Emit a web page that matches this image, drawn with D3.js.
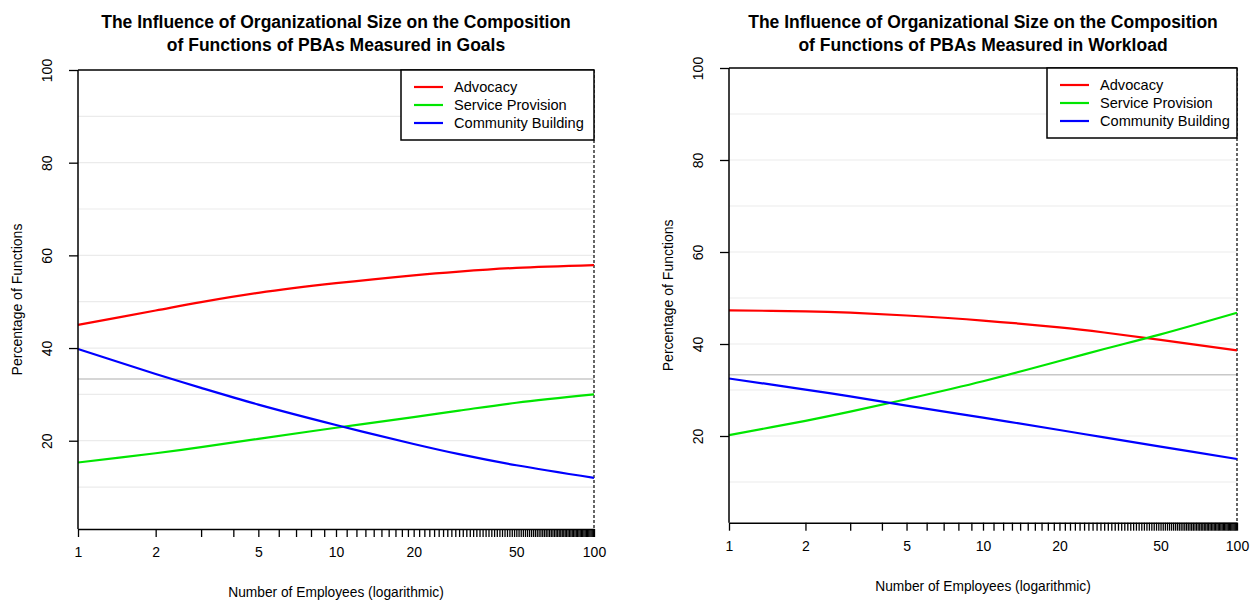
<!DOCTYPE html>
<html>
<head>
<meta charset="utf-8">
<script src="https://cdn.jsdelivr.net/npm/d3@7"></script>
<style>
  body { margin: 0; background: #fff; }
  svg { display: block; font-family: "Liberation Sans", Arial, sans-serif; }
  .tick line { stroke: #000; }
  .tick text { fill: #000; }
</style>
</head>
<body>
<svg id="chart" width="1256" height="602"></svg>
<script>
// values (percent of functions by number of employees)
const employees = [1, 2, 3, 5, 10, 20, 30, 50, 100];

const goalsAdvocacy = [45.0, 48.1, 49.9, 51.9, 54.0, 55.7, 56.5, 57.3, 57.9];
const goalsService = [15.3, 17.3, 18.6, 20.4, 22.8, 25.1, 26.5, 28.2, 30.0];
const goalsCommunity = [39.8, 34.4, 31.4, 27.8, 23.4, 19.3, 17.1, 14.7, 12.0];

const workAdvocacy = [47.3, 47.1, 46.8, 46.2, 45.1, 43.6, 42.5, 40.9, 38.6];
const workService = [20.2, 23.3, 25.3, 28.0, 31.9, 36.3, 38.9, 42.1, 46.8];
const workCommunity = [32.5, 30.1, 28.6, 26.6, 24.0, 21.3, 19.7, 17.7, 15.0];

const seriesNames = ["Advocacy", "Service Provision", "Community Building"];
const seriesColors = ["#ff0000", "#00e600", "#0000ff"];

const yTicks = [20, 40, 60, 80, 100];
const gridValues = [10, 20, 30, 40, 50, 60, 70, 80, 90];
const equalShare = 100 / 3;
const xLabels = [1, 2, 5, 10, 20, 50, 100];
const rugTicks = d3.range(1, 101);

const panels = [
  {
    title: ["The Influence of Organizational Size on the Composition",
            "of Functions of PBAs Measured in Goals"],
    series: [goalsAdvocacy, goalsService, goalsCommunity],
    x0: 78, x1: 594, yTop: 70, yZero: 533.4, axisY: 529, legendW: 193
  },
  {
    title: ["The Influence of Organizational Size on the Composition",
            "of Functions of PBAs Measured in Workload"],
    series: [workAdvocacy, workService, workCommunity],
    x0: 729, x1: 1237, yTop: 68, yZero: 528, axisY: 522.7, legendW: 190
  }
];

const svg = d3.select("#chart");

const drawPanel = (p) => {
  const x = d3.scaleLog().domain([1, 100]).range([p.x0, p.x1]);
  const y = d3.scaleLinear().domain([0, 100]).range([p.yZero, p.yTop]);
  const cx = (p.x0 + p.x1) / 2;
  const g = svg.append("g");

  // grid
  g.append("g").selectAll("line")
    .data(gridValues)
    .join("line")
    .attr("x1", p.x0).attr("x2", p.x1)
    .attr("y1", d => y(d)).attr("y2", d => y(d))
    .attr("stroke", "#ebebeb").attr("stroke-width", 1.2);

  g.append("line")
    .attr("x1", p.x0).attr("x2", p.x1)
    .attr("y1", y(equalShare)).attr("y2", y(equalShare))
    .attr("stroke", "#c8c8c8").attr("stroke-width", 1.5);

  // top line at 100 and dashed right edge
  g.append("line")
    .attr("x1", p.x0).attr("x2", p.x1)
    .attr("y1", y(100)).attr("y2", y(100))
    .attr("stroke", "#000").attr("stroke-width", 1.5);

  g.append("line")
    .attr("x1", x(100)).attr("x2", x(100))
    .attr("y1", y(100)).attr("y2", p.axisY)
    .attr("stroke", "#000").attr("stroke-width", 1.2)
    .attr("stroke-dasharray", "3,2");

  // lines
  const line = d3.line()
    .x(d => x(d[0]))
    .y(d => y(d[1]))
    .curve(d3.curveCatmullRom);

  g.append("g").selectAll("path")
    .data(p.series)
    .join("path")
    .attr("fill", "none")
    .attr("stroke", (d, i) => seriesColors[i])
    .attr("stroke-width", 2.2)
    .attr("d", d => line(d.map((v, i) => [employees[i], v])));

  // x axis with a tick for every employee count
  const xa = g.append("g")
    .attr("transform", `translate(0,${p.axisY})`)
    .call(d3.axisBottom(x).tickValues(rugTicks).tickSize(8).tickSizeOuter(0).tickPadding(10)
      .tickFormat(d => xLabels.includes(d) ? d : ""));
  xa.select(".domain").attr("stroke", "#000").attr("stroke-width", 1.5);
  xa.selectAll(".tick line").attr("stroke-width", 1.3);
  xa.selectAll(".tick text").attr("font-size", 14);

  // y axis
  const ya = g.append("g")
    .attr("transform", `translate(${p.x0},0)`)
    .call(d3.axisLeft(y).tickValues(yTicks).tickSize(9).tickPadding(0));
  ya.select(".domain").remove();
  ya.selectAll(".tick line").attr("stroke-width", 1.3);
  ya.selectAll(".tick text")
    .attr("font-size", 14)
    .attr("text-anchor", "middle")
    .attr("x", 0).attr("dy", 0)
    .attr("transform", "translate(-26,0) rotate(-90)");
  g.append("line")
    .attr("x1", p.x0).attr("x2", p.x0)
    .attr("y1", y(100)).attr("y2", p.axisY)
    .attr("stroke", "#000").attr("stroke-width", 1.5);

  // titles
  g.append("text")
    .attr("x", cx).attr("text-anchor", "middle")
    .attr("font-weight", "bold").attr("font-size", 17.5)
    .selectAll("tspan")
    .data(p.title)
    .join("tspan")
    .attr("x", cx)
    .attr("y", (d, i) => 28 + i * 23)
    .text(d => d);

  g.append("text")
    .attr("x", cx).attr("y", p.axisY + 68)
    .attr("text-anchor", "middle").attr("font-size", 13.75)
    .text("Number of Employees (logarithmic)");

  g.append("text")
    .attr("transform", `translate(${p.x0 - 56},${(y(100) + p.axisY) / 2}) rotate(-90)`)
    .attr("text-anchor", "middle").attr("font-size", 14)
    .text("Percentage of Functions");

  // legend
  const lx = x(100) - p.legendW;
  const ly = y(100);
  const legend = g.append("g").attr("transform", `translate(${lx},${ly})`);
  legend.append("rect")
    .attr("width", p.legendW).attr("height", 70)
    .attr("fill", "#fff").attr("stroke", "#000").attr("stroke-width", 1.5);
  const rows = legend.selectAll("g.row")
    .data(seriesNames)
    .join("g")
    .attr("class", "row")
    .attr("transform", (d, i) => `translate(0,${17 + i * 18})`);
  rows.append("line")
    .attr("x1", 13).attr("x2", 42)
    .attr("stroke", (d, i) => seriesColors[i]).attr("stroke-width", 2.2);
  rows.append("text")
    .attr("x", 53).attr("dy", "0.35em").attr("font-size", 14.6)
    .text(d => d);
};

panels.forEach(drawPanel);
</script>
</body>
</html>
